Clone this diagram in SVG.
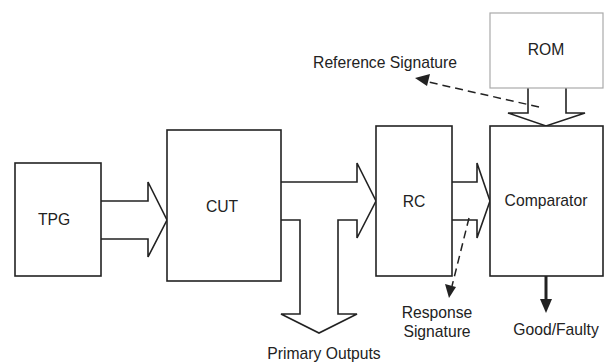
<svg xmlns="http://www.w3.org/2000/svg" width="606" height="363" viewBox="0 0 606 363">
<defs>
<style>
.box{fill:#fff;stroke:#222;stroke-width:1.6}
.rom{fill:#fff;stroke:#aaa;stroke-width:1.2}
.bus{fill:#fff;stroke:#222;stroke-width:1.6;stroke-linejoin:miter}
.dash{fill:none;stroke:#222;stroke-width:1.5;stroke-dasharray:8 5}
.head{fill:#222}
.lbl{font-family:"Liberation Sans",Arial,sans-serif;font-size:15.7px;fill:#222;text-anchor:middle}
</style>
</defs>
<g id="connectors">
<path class="bus" d="M101,201 H148 V182 L167,220 L148,257 V239 H101"/>
<path class="bus" d="M281,182 H357 V163 L376,201 L357,238 V220 H338 V314 H357 L319,333 L281,314 H300 V220 H281"/>
<path class="bus" d="M452,182 H477 V163 L490,201 L477,238 V220 H452"/>
<path class="bus" d="M528,88 V113 H508 L546,126 L585,113 H566 V88"/>
<line class="dash" x1="539" y1="107" x2="424" y2="81"/>
<path class="head" d="M415,78 L430,74 L427,86 z"/>
<line class="dash" x1="469" y1="218" x2="452" y2="286"/>
<path class="head" d="M449,298 L445,284 L456,287 z"/>
<line x1="546" y1="276" x2="546" y2="300" stroke="#222" stroke-width="3"/>
<path class="head" d="M540,299 L552,299 L546,313 z"/>
</g>
<g id="tpg"><rect class="box" x="15" y="163" width="86" height="113"/><text class="lbl" x="54" y="225">TPG</text></g>
<g id="cut"><rect class="box" x="167" y="130" width="114" height="151"/><text class="lbl" x="222" y="212">CUT</text></g>
<g id="rc"><rect class="box" x="376" y="126" width="76" height="150"/><text class="lbl" x="414" y="207">RC</text></g>
<g id="comparator"><rect class="box" x="490" y="126" width="113" height="150"/><text class="lbl" x="546" y="206">Comparator</text></g>
<g id="rom"><rect class="rom" x="490" y="13" width="113" height="75"/><text class="lbl" x="546" y="55">ROM</text></g>
<g id="labels">
<text class="lbl" x="385" y="68">Reference Signature</text>
<text class="lbl" x="437" y="318">Response</text>
<text class="lbl" x="437" y="337">Signature</text>
<text class="lbl" x="556" y="335">Good/Faulty</text>
<text class="lbl" x="324" y="359">Primary Outputs</text>
</g>
</svg>
